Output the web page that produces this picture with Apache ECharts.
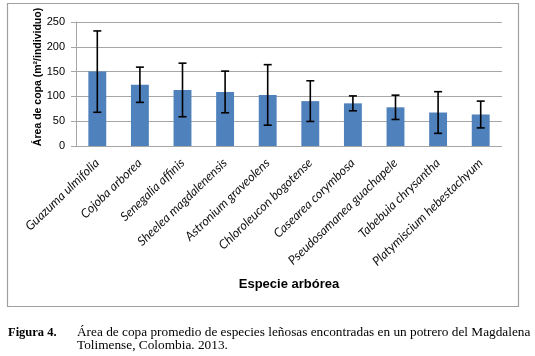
<!DOCTYPE html>
<html>
<head>
<meta charset="utf-8">
<script src="https://cdn.jsdelivr.net/npm/echarts@6/dist/echarts.min.js"></script>
<style>
html,body{margin:0;padding:0;background:#fff;}
#chart{width:535px;height:356px;}
</style>
</head>
<body>
<div id="chart"></div>
<script>
const categories = ["Guazuma ulmifolia","Cojoba arborea","Senegalia affinis","Sheelea magdalenensis","Astronium graveolens","Chloroleucon bogotense","Casearea corymbosa","Pseudosamanea guachapele","Tabebuia chrysantha","Platymiscium hebestachyum"];
const meanArea = [150, 123.5, 113, 109, 103, 90.5, 86, 78, 67.5, 63.5];
const errorSD = [82, 35.5, 54, 42, 61, 41, 15, 24.5, 42, 27];
const yTicks = [0, 50, 100, 150, 200, 250];

const chart = echarts.init(document.getElementById('chart'), null, {renderer: 'canvas'});
const errData = categories.map((c, i) => [i, meanArea[i] - errorSD[i], meanArea[i] + errorSD[i]]);

chart.setOption({
  animation: false,
  backgroundColor: '#fff',
  grid: {left: 76, right: 33, top: 22, bottom: 210, containLabel: false},
  xAxis: {
    type: 'category',
    data: categories,
    axisLine: {show: false},
    axisTick: {show: false},
    axisLabel: {
      rotate: 44, interval: 0, margin: 15,
      fontFamily: 'Lato', fontStyle: 'italic', fontSize: 12.5, color: '#111'
    },
    name: 'Especie arbórea',
    nameLocation: 'middle',
    nameGap: 132,
    nameTextStyle: {fontFamily: 'Liberation Sans', fontWeight: 'bold', fontSize: 13, color: '#000'}
  },
  yAxis: {
    type: 'value',
    min: yTicks[0], max: yTicks[yTicks.length - 1], interval: 50,
    axisLine: {show: true, lineStyle: {color: '#a6a6a6', width: 1}},
    axisTick: {show: true, inside: false, length: 5, lineStyle: {color: '#a6a6a6'}},
    splitLine: {lineStyle: {color: '#a6a6a6', width: 1}},
    axisLabel: {fontFamily: 'Liberation Sans', fontSize: 11, color: '#000', margin: 11}
  },
  series: [
    {
      type: 'bar',
      data: meanArea,
      barWidth: '42%',
      itemStyle: {color: '#4f81bd'},
      z: 2
    },
    {
      type: 'custom',
      data: errData,
      z: 5,
      renderItem: function (params, api) {
        const x = api.value(0);
        const lo = api.coord([x, api.value(1)]);
        const hi = api.coord([x, api.value(2)]);
        const hw = 4;
        const style = {stroke: '#000', lineWidth: 1.6};
        return {
          type: 'group',
          children: [
            {type: 'line', shape: {x1: lo[0], y1: lo[1], x2: hi[0], y2: hi[1]}, style: style},
            {type: 'line', shape: {x1: hi[0] - hw, y1: hi[1], x2: hi[0] + hw, y2: hi[1]}, style: style},
            {type: 'line', shape: {x1: lo[0] - hw, y1: lo[1], x2: lo[0] + hw, y2: lo[1]}, style: style}
          ]
        };
      }
    }
  ],
  graphic: [
    {type: 'rect', shape: {x: 7.5, y: 3.5, width: 511, height: 303}, style: {fill: 'none', stroke: '#a0a0a0', lineWidth: 1.2}, z: -1},
    {type: 'text', x: 38.5, y: 77, rotation: Math.PI / 2,
      style: {text: 'Área de copa (m²/individuo)', font: 'bold 10.5px "Liberation Sans"', fill: '#000', align: 'center', verticalAlign: 'middle'}},
    {type: 'text', left: 8, top: 326, style: {text: 'Figura 4.', font: 'bold 12.5px "Liberation Serif"', fill: '#000'}},
    {type: 'text', left: 77, top: 326, style: {text: 'Área de copa promedio de especies leñosas encontradas en un potrero del Magdalena', font: '13.3px "Liberation Serif"', fill: '#000'}},
    {type: 'text', left: 77, top: 339, style: {text: 'Tolimense, Colombia. 2013.', font: '13.3px "Liberation Serif"', fill: '#000'}}
  ]
});
</script>
</body>
</html>
